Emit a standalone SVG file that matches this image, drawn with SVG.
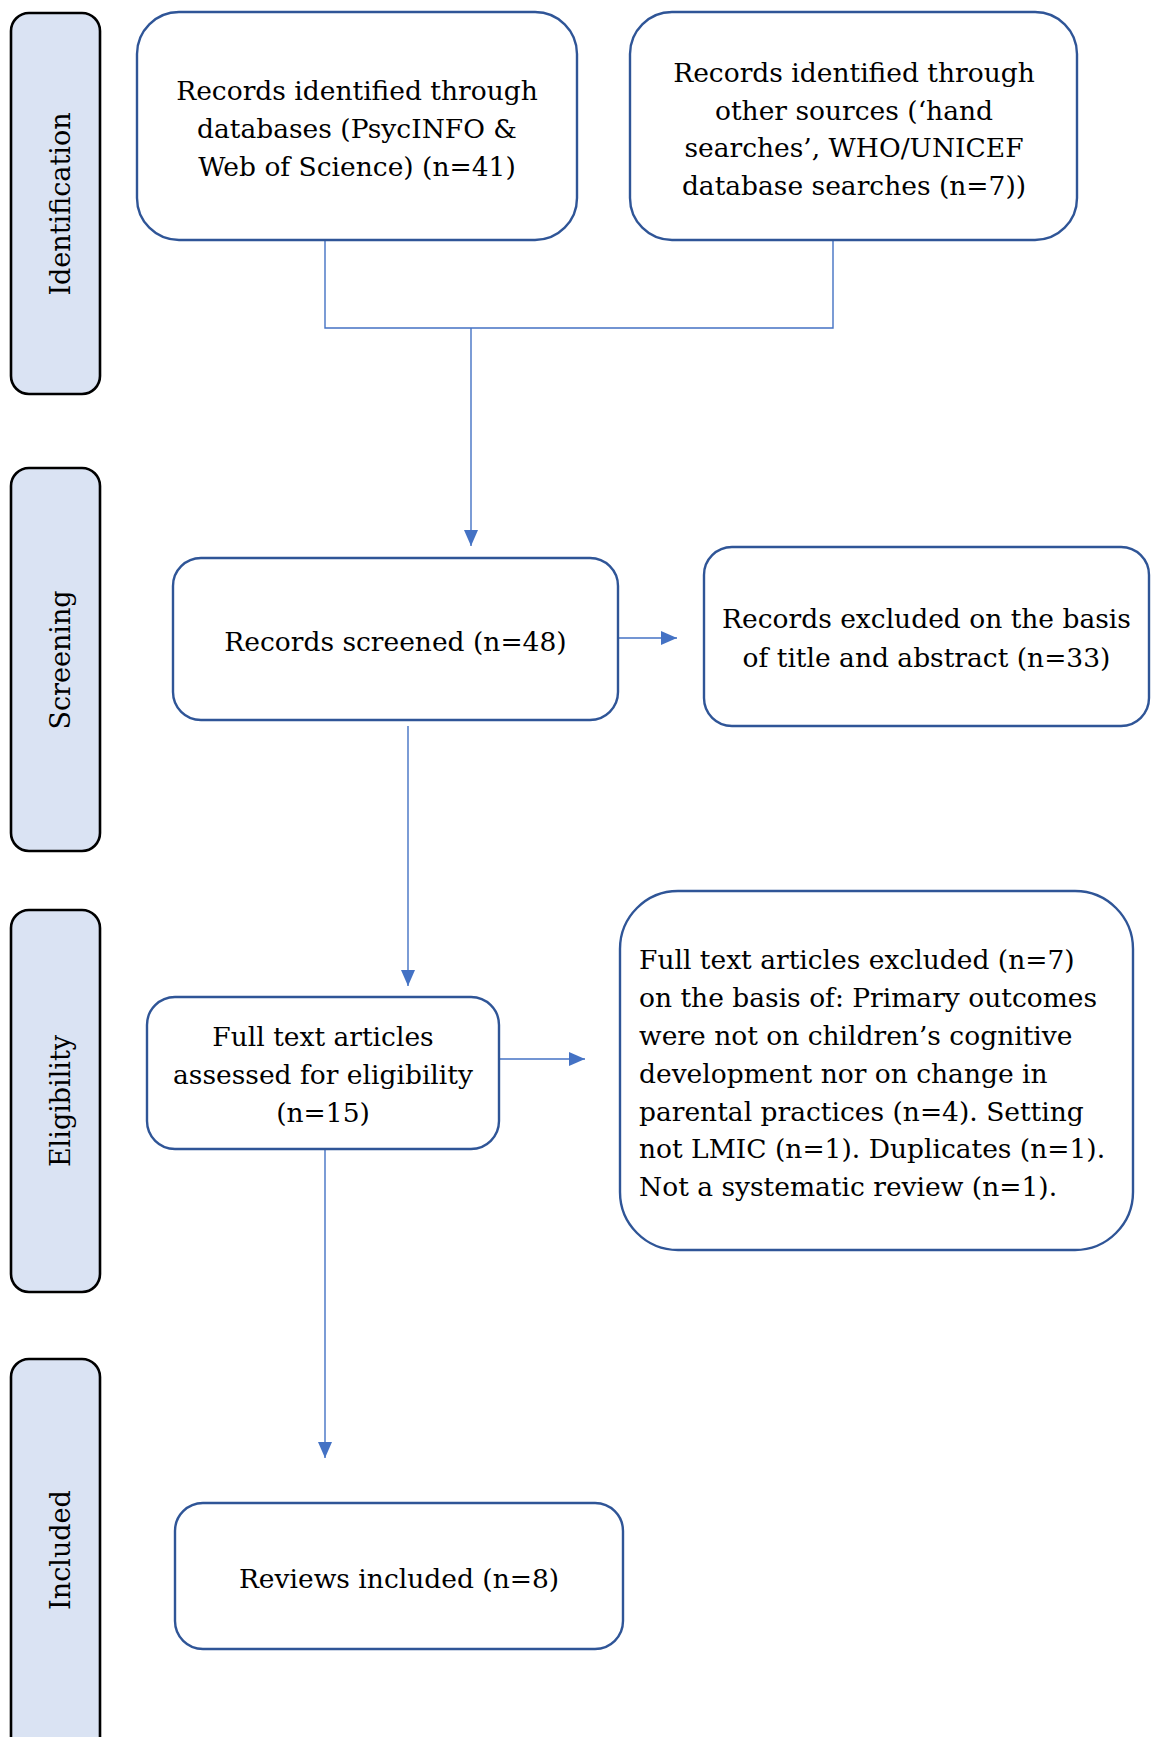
<svg xmlns="http://www.w3.org/2000/svg" width="1154" height="1737" viewBox="0 0 1154 1737">
<style>
.bar{fill:#DAE3F3;stroke:#000;stroke-width:2.6}
.box{fill:#fff;stroke:#2F5597;stroke-width:2.4}
.lbl{font-family:"DejaVu Serif","Liberation Serif",serif;font-size:27px;fill:#000}
.t{font-family:"DejaVu Serif","Liberation Serif",serif;font-size:26.5px;fill:#000;text-anchor:middle}
.tl{font-family:"DejaVu Serif","Liberation Serif",serif;font-size:26.5px;fill:#000}
.c{fill:none;stroke:#4472C4;stroke-width:1.4}
</style>
<defs>
<marker id="ah" markerUnits="userSpaceOnUse" markerWidth="16" markerHeight="14" viewBox="0 0 16 14" refX="16" refY="7" orient="auto">
<path d="M0,0 L16,7 L0,14 Z" fill="#4472C4"/>
</marker>
</defs>
<rect width="1154" height="1737" fill="#fff"/>

<g id="phase-identification">
<rect class="bar" x="11" y="13" width="89" height="381" rx="18"/>
<text class="lbl" transform="translate(70,204) rotate(-90)" text-anchor="middle">Identification</text>
</g>
<g id="phase-screening">
<rect class="bar" x="11" y="468" width="89" height="383" rx="18"/>
<text class="lbl" transform="translate(70,660) rotate(-90)" text-anchor="middle">Screening</text>
</g>
<g id="phase-eligibility">
<rect class="bar" x="11" y="910" width="89" height="382" rx="18"/>
<text class="lbl" transform="translate(70,1101) rotate(-90)" text-anchor="middle">Eligibility</text>
</g>
<g id="phase-included">
<rect class="bar" x="11" y="1359" width="89" height="400" rx="18"/>
<text class="lbl" transform="translate(70,1550) rotate(-90)" text-anchor="middle">Included</text>
</g>

<g id="connectors">
<path class="c" d="M325,240 V328 H833 V240"/>
<path class="c" d="M471,328 V546" marker-end="url(#ah)"/>
<path class="c" d="M618,638 H677" marker-end="url(#ah)"/>
<path class="c" d="M408,726 V986" marker-end="url(#ah)"/>
<path class="c" d="M499,1059 H585" marker-end="url(#ah)"/>
<path class="c" d="M325,1149 V1458" marker-end="url(#ah)"/>
</g>

<g id="records-databases">
<rect class="box" x="137" y="12" width="440" height="228" rx="42"/>
<text class="t" x="357" y="100">Records identified through</text>
<text class="t" x="357" y="137.5">databases (PsycINFO &amp;</text>
<text class="t" x="357" y="175.5">Web of Science) (n=41)</text>
</g>

<g id="records-other">
<rect class="box" x="630" y="12" width="447" height="228" rx="42"/>
<text class="t" x="854" y="82">Records identified through</text>
<text class="t" x="854" y="119.5">other sources (‘hand</text>
<text class="t" x="854" y="157">searches’, WHO/UNICEF</text>
<text class="t" x="854" y="195">database searches (n=7))</text>
</g>

<g id="records-screened">
<rect class="box" x="173" y="558" width="445" height="162" rx="28"/>
<text class="t" x="395.5" y="651">Records screened (n=48)</text>
</g>

<g id="records-excluded">
<rect class="box" x="704" y="547" width="445" height="179" rx="28"/>
<text class="t" x="926.5" y="628">Records excluded on the basis</text>
<text class="t" x="926.5" y="667">of title and abstract  (n=33)</text>
</g>

<g id="fulltext-assessed">
<rect class="box" x="147" y="997" width="352" height="152" rx="28"/>
<text class="t" x="323" y="1046">Full text articles</text>
<text class="t" x="323" y="1084">assessed for eligibility</text>
<text class="t" x="323" y="1122">(n=15)</text>
</g>

<g id="fulltext-excluded">
<rect class="box" x="620" y="891" width="513" height="359" rx="58"/>
<text class="tl" x="639" y="969">Full text articles excluded (n=7)</text>
<text class="tl" x="639" y="1007">on the basis of: Primary outcomes</text>
<text class="tl" x="639" y="1045">were not on children’s cognitive</text>
<text class="tl" x="639" y="1083">development nor on change in</text>
<text class="tl" x="639" y="1121">parental practices (n=4). Setting</text>
<text class="tl" x="639" y="1158">not LMIC (n=1). Duplicates (n=1).</text>
<text class="tl" x="639" y="1196">Not a systematic review (n=1).</text>
</g>

<g id="reviews-included">
<rect class="box" x="175" y="1503" width="448" height="146" rx="28"/>
<text class="t" x="399" y="1588">Reviews included (n=8)</text>
</g>
</svg>
